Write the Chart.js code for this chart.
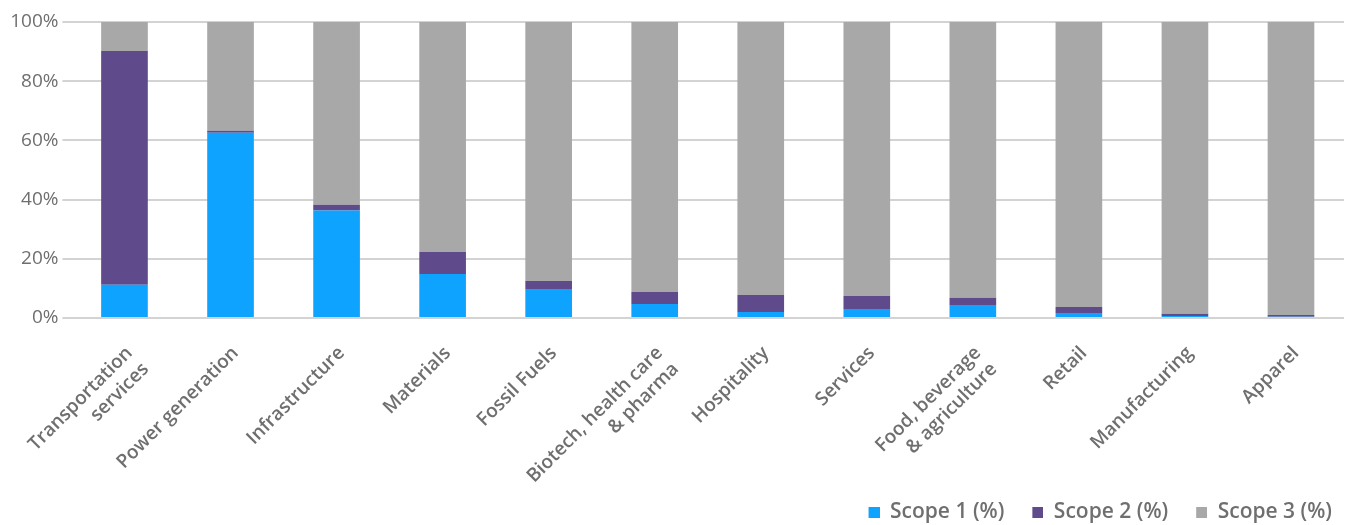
<!DOCTYPE html>
<html>
<head>
<meta charset="utf-8">
<script src="https://cdn.jsdelivr.net/npm/chart.js@4/dist/chart.umd.min.js"></script>
<style>
html,body{margin:0;padding:0;background:#fff;}
#wrap{width:1349px;height:525px;position:relative;}
</style>
</head>
<body>
<div id="wrap"><canvas id="c" width="1349" height="525"></canvas></div>
<script>
const categories = [
  ["Transportation", "services"],
  "Power generation",
  "Infrastructure",
  "Materials",
  "Fossil Fuels",
  ["Biotech, health care", "& pharma"],
  "Hospitality",
  "Services",
  ["Food, beverage", "& agriculture"],
  "Retail",
  "Manufacturing",
  "Apparel"
];
const scope1 = [11.2, 62.6, 36.3, 14.9, 9.8, 4.7, 2.0, 3.0, 4.4, 1.7, 0.7, 0.4];
const scope2 = [79.0, 0.7, 2.0, 7.4, 2.7, 4.1, 5.8, 4.4, 2.4, 2.0, 0.7, 0.6];
const scope3 = [9.8, 36.7, 61.7, 77.7, 87.5, 91.2, 92.2, 92.6, 93.2, 96.3, 98.6, 99.0];
const yTicks = [0, 20, 40, 60, 80, 100];
const seriesColors = ['#0ea3ff', '#5f4b8b', '#a8a8a8'];

const FONT = "'Open Sans', Lato, sans-serif";
const TXT = "#6f6f6f";

// legend marker: 11px square placed at the right of a wider transparent canvas (for spacing)
function marker(color) {
  const c = document.createElement('canvas');
  c.width = 27; c.height = 11;
  const g = c.getContext('2d');
  g.fillStyle = color;
  g.fillRect(16, 0, 11, 11);
  return c;
}
const markers = seriesColors.map(marker);

new Chart(document.getElementById('c'), {
  type: 'bar',
  data: {
    labels: categories,
    datasets: [
      {label: 'Scope 1 (%)', data: scope1, backgroundColor: seriesColors[0]},
      {label: 'Scope 2 (%)', data: scope2, backgroundColor: seriesColors[1]},
      {label: 'Scope 3 (%)', data: scope3, backgroundColor: seriesColors[2]}
    ]
  },
  options: {
    responsive: false,
    animation: false,
    devicePixelRatio: 1,
    layout: {padding: {top: 22, right: 5, left: 0, bottom: -8}},
    datasets: {bar: {barPercentage: 0.44, categoryPercentage: 1.0, borderWidth: 0}},
    scales: {
      x: {
        stacked: true,
        grid: {display: false, drawTicks: false},
        border: {display: false},
        ticks: {
          maxRotation: 45, minRotation: 45, autoSkip: false,
          color: TXT, padding: 24, labelOffset: 5,
          font: {family: FONT, size: 19, weight: '600'}
        },
        afterFit: (s) => { s.height = 172; }
      },
      y: {
        stacked: true,
        min: 0, max: 100,
        afterBuildTicks: (s) => { s.ticks = yTicks.map(v => ({value: v})); },
        grid: {color: '#d3d3d3', lineWidth: 2, drawTicks: true, tickLength: 9},
        border: {display: false},
        ticks: {
          color: TXT, padding: 4,
          font: {family: FONT, size: 19},
          callback: (v) => v + '%'
        },
        afterFit: (s) => { s.width = 71; }
      }
    },
    plugins: {
      legend: {
        position: 'bottom',
        align: 'end',
        labels: {
          usePointStyle: true, pointStyleWidth: 27,
          boxWidth: 11, boxHeight: 11, padding: 12,
          color: TXT,
          font: {family: FONT, size: 21, weight: '600'},
          generateLabels: (chart) => {
            const items = Chart.defaults.plugins.legend.labels.generateLabels(chart);
            items.forEach((it, i) => { it.pointStyle = markers[i]; });
            return items;
          }
        }
      },
      tooltip: {enabled: false}
    }
  }
});
</script>
</body>
</html>
